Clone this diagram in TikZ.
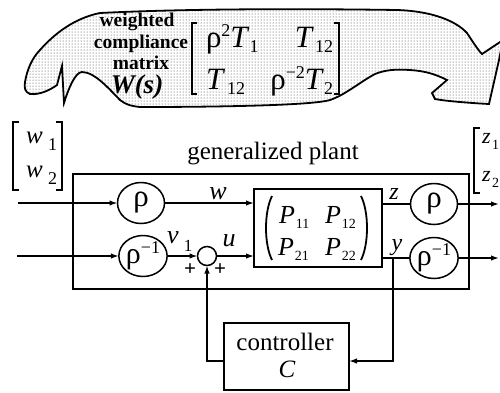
\documentclass[tikz,border=0pt]{standalone}
\usepackage{fontspec}
\setmainfont{Liberation Serif}
\usetikzlibrary{shapes.geometric,arrows.meta,patterns}
\newcommand{\fs}[1]{\fontsize{#1}{#1}\selectfont}
\newcommand{\hi}[3]{\raisebox{#1pt}{\fs{#2}#3}}
\newcommand{\lo}[3]{\raisebox{-#1pt}{\fs{#2}#3}}
\begin{document}
\begin{tikzpicture}[x=1pt,y=-1pt,
  every node/.style={inner sep=0pt,outer sep=0pt},
  ln/.style={line width=1.5pt},
  arr/.style={ln,-{Latex[length=8pt,width=5.5pt]}},
  wcirc/.style={draw,ellipse,line width=1.5pt,minimum width=47pt,minimum height=41pt},
  boxed/.style={draw,line width=2pt},
  lbl/.style={font=\fs{26}\itshape,anchor=base},
  plus/.style={font=\fs{21}\bfseries}]
\useasboundingbox (0,0) rectangle (500,392);
% cloud
\draw[line width=1.8pt,pattern=dots,pattern color=black!80]
 (100,13) .. controls (200,8) and (330,9) .. (397,10)
 .. controls (430,11) and (455,20) .. (467,33)
 .. controls (473,42) and (478,50) .. (482,54)
 -- (503,40) -- (499,60) -- (489,104)
 .. controls (470,103) and (445,101) .. (435,99)
 -- (432,93) -- (447,80)
 .. controls (435,74) and (425,71) .. (410,70)
 .. controls (395,69) and (385,70) .. (375,74)
 .. controls (360,82) and (345,95) .. (330,100)
 .. controls (310,106) and (200,107) .. (140,107)
 .. controls (130,106) and (125,104) .. (120,100)
 .. controls (110,90) and (95,72) .. (82,72)
 .. controls (75,72) and (68,90) .. (64,103)
 -- (62,66) -- (57,85)
 .. controls (50,90) and (40,95) .. (30,94)
 .. controls (25,92) and (24,88) .. (25,82)
 .. controls (27,70) and (32,58) .. (40,50)
 .. controls (55,33) and (75,18) .. (100,13) -- cycle;
\node[font=\fs{19.5}\bfseries,anchor=base] (t1) at (137,26) {weighted};
\node[font=\fs{19.5}\bfseries,anchor=base] (t2) at (141,48) {compliance};
\node[font=\fs{19.5}\bfseries,anchor=base] (t3) at (141,69) {matrix};
\node[font=\fs{27}\bfseries\itshape,anchor=base] (t4) at (137,93) {W(s)};
\draw[line width=1.6pt] (197,23) -- (192,23) -- (192,94) -- (197,94);
\draw[line width=1.6pt] (334,23) -- (339,23) -- (339,94) -- (334,94);
\node[anchor=base west,font=\fs{31}] (m11) at (206,47) {ρ\hi{11}{18}{2}\textit{T}\lo{5}{18}{1}};
\node[anchor=base east,font=\fs{31}] (m12) at (333,47) {\textit{T}\kern1pt\lo{5}{18}{12}};
\node[anchor=base west,font=\fs{31}] (m21) at (206,89) {\textit{T}\kern2pt\lo{5}{18}{12}};
\node[anchor=base east,font=\fs{31}] (m22) at (333,89) {ρ\hi{11}{18}{−2}\textit{T}\lo{5}{18}{2}};
% w vector
\draw[line width=1.5pt] (19,122) -- (13,122) -- (13,190) -- (19,190);
\draw[line width=1.5pt] (56,122) -- (62,122) -- (62,190) -- (56,190);
\node[anchor=base west,font=\fs{25}\itshape] (w1) at (26,143) {w};
\node[anchor=base west,font=\fs{18}] (w1s) at (48,150) {1};
\node[anchor=base west,font=\fs{25}\itshape] (w2) at (26,177) {w};
\node[anchor=base west,font=\fs{18}] (w2s) at (48,184) {2};
% z vector
\draw[line width=1.5pt] (480,128) -- (474,128) -- (474,193) -- (480,193);
\node[anchor=base west,font=\fs{22}\itshape] (z1) at (482,143) {z};
\node[anchor=base west,font=\fs{14}] (z1s) at (492,149) {1};
\node[anchor=base west,font=\fs{22}\itshape] (z2) at (482,181) {z};
\node[anchor=base west,font=\fs{14}] (z2s) at (492,187) {2};
% plant
\node[anchor=base,font=\fs{25}] (gp) at (273,159) {generalized plant};
\node[draw,line width=2.4pt,minimum width=396pt,minimum height=115pt] (plant) at (271,231.5) {};
\node[boxed,minimum width=128pt,minimum height=78pt] (P) at (318,228) {};
\draw[line width=1.8pt] (272,196) .. controls (264,212) and (264,244) .. (272,260);
\draw[line width=1.8pt] (361,196) .. controls (369,212) and (369,244) .. (361,260);
\node[anchor=base west,font=\fs{26}] (p11) at (279,223) {\textit{P}\kern1pt\lo{5}{14}{11}};
\node[anchor=base west,font=\fs{26}] (p12) at (325,223) {\textit{P}\kern1pt\lo{5}{14}{12}};
\node[anchor=base west,font=\fs{26}] (p21) at (278,255) {\textit{P}\kern1pt\lo{5}{14}{21}};
\node[anchor=base west,font=\fs{26}] (p22) at (325,255) {\textit{P}\kern1pt\lo{5}{14}{22}};
\node[wcirc] (r1) at (141,203) {\fs{31}ρ};
\node[wcirc] (r2) at (143,256) {\fs{30}ρ\hi{10}{18}{−1}};
\node[wcirc] (r3) at (434,204) {\fs{31}ρ};
\node[wcirc] (r4) at (434,258) {\fs{30}ρ\hi{10}{18}{−1}};
\node[draw,circle,ln,minimum size=19pt] (sum) at (207,256) {};
\node[boxed,minimum width=125pt,minimum height=67pt] (C) at (286.5,356.5) {};
\node[anchor=base,font=\fs{25}] (ct) at (285,350) {controller};
\node[anchor=base,font=\fs{25}\itshape] (cc) at (287,377) {C};
% labels
\node[lbl] (lw) at (218,199) {w};
\node[lbl] (lv) at (173,243) {v};
\node[anchor=base,font=\fs{17}] (l1) at (188,251) {1};
\node[lbl] (lu) at (229,246) {u};
\node[lbl,font=\fs{24}\itshape] (lz) at (394,199) {z};
\node[lbl,font=\fs{24}\itshape] (ly) at (397,250) {y};
\node[plus] (pl1) at (190,270) {+};
\node[plus] (pl2) at (220,270) {+};
% connectors
\coordinate (in1) at (18,203);
\coordinate (in2) at (17,256);
\coordinate (o1) at (499,204);
\coordinate (o2) at (499,258);
\coordinate (tap) at (393,258);
\draw[arr] (in1) -- (r1.west);
\draw[arr] (in2) -- (r2.west);
\draw[arr] (r1.east) -- (r1.east -| P.west);
\draw[arr] (r2.east) -- (sum.west);
\draw[arr] (sum.east) -- (sum.east -| P.west);
\draw[ln] (r3.west -| P.east) -- (r3.west);
\draw[ln] (r4.west -| P.east) -- (r4.west);
\draw[arr] (r3.east) -- (o1);
\draw[arr] (r4.east) -- (o2);
\draw[arr] (tap) |- ([yshift=-4.5pt]C.east);
\draw[arr] ([yshift=-4.5pt]C.west) -| (sum.south);
\end{tikzpicture}
\end{document}
